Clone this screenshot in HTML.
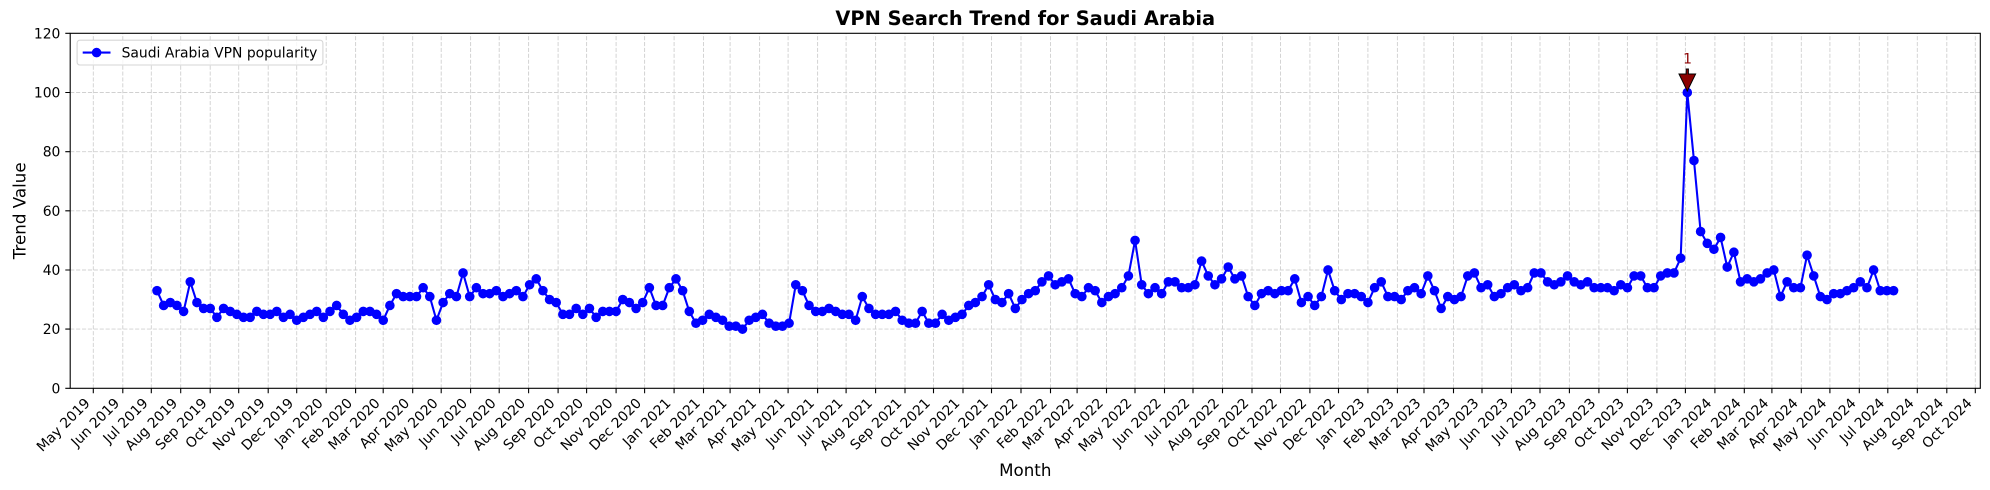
<!DOCTYPE html>
<html><head><meta charset="utf-8"><style>
body{margin:0;background:#fff}
svg{display:block}
text{font-family:"DejaVu Sans","Liberation Sans",sans-serif;fill:#000}
</style></head><body>
<svg width="1990" height="490" viewBox="0 0 1990 490" xmlns="http://www.w3.org/2000/svg">
<defs>
<marker id="m" markerUnits="userSpaceOnUse" markerWidth="1" markerHeight="1" refX="0" refY="0" overflow="visible" orient="0">
<circle r="4.8" transform="scale(0.150297,0.338066)" fill="#0000ff"/>
</marker>
</defs>
<rect width="1990" height="490" fill="#fff"/>

<!-- grid -->
<path fill="none" stroke="#b0b0b0" stroke-opacity="0.6" stroke-width="0.9" stroke-dasharray="4.1,1.8"
d="M93.3 388.3V33.3M122.8 388.3V33.3M151.3 388.3V33.3M180.7 388.3V33.3M210.2 388.3V33.3M238.7 388.3V33.3M268.2 388.3V33.3M296.7 388.3V33.3M326.2 388.3V33.3M355.6 388.3V33.3M383.2 388.3V33.3M412.7 388.3V33.3M441.2 388.3V33.3M470.6 388.3V33.3M499.2 388.3V33.3M528.6 388.3V33.3M558.1 388.3V33.3M586.6 388.3V33.3M616.1 388.3V33.3M644.6 388.3V33.3M674.1 388.3V33.3M703.5 388.3V33.3M730.1 388.3V33.3M759.6 388.3V33.3M788.1 388.3V33.3M817.6 388.3V33.3M846.1 388.3V33.3M875.6 388.3V33.3M905 388.3V33.3M933.5 388.3V33.3M963 388.3V33.3M991.5 388.3V33.3M1021 388.3V33.3M1050.5 388.3V33.3M1077.1 388.3V33.3M1106.5 388.3V33.3M1135 388.3V33.3M1164.5 388.3V33.3M1193 388.3V33.3M1222.5 388.3V33.3M1252 388.3V33.3M1280.5 388.3V33.3M1309.9 388.3V33.3M1338.5 388.3V33.3M1367.9 388.3V33.3M1397.4 388.3V33.3M1424 388.3V33.3M1453.5 388.3V33.3M1482 388.3V33.3M1511.4 388.3V33.3M1540 388.3V33.3M1569.4 388.3V33.3M1598.9 388.3V33.3M1627.4 388.3V33.3M1656.9 388.3V33.3M1685.4 388.3V33.3M1714.9 388.3V33.3M1744.3 388.3V33.3M1771.9 388.3V33.3M1801.3 388.3V33.3M1829.9 388.3V33.3M1859.3 388.3V33.3M1887.8 388.3V33.3M1917.3 388.3V33.3M1946.8 388.3V33.3M1975.3 388.3V33.3
M70.2 329.1H1980.3M70.2 270H1980.3M70.2 210.8H1980.3M70.2 151.7H1980.3M70.2 92.5H1980.3"/>

<!-- data -->
<g transform="translate(157,388.3) scale(6.6535,-2.958)">
<polyline fill="none" stroke="#0000ff" stroke-width="2.08" stroke-linejoin="round" vector-effect="non-scaling-stroke" points="0,33 1,28 2,29 3,28 4,26 5,36 6,29 7,27 8,27 9,24 10,27 11,26 12,25 13,24 14,24 15,26 16,25 17,25 18,26 19,24 20,25 21,23 22,24 23,25 24,26 25,24 26,26 27,28 28,25 29,23 30,24 31,26 32,26 33,25 34,23 35,28 36,32 37,31 38,31 39,31 40,34 41,31 42,23 43,29 44,32 45,31 46,39 47,31 48,34 49,32 50,32 51,33 52,31 53,32 54,33 55,31 56,35 57,37 58,33 59,30 60,29 61,25 62,25 63,27 64,25 65,27 66,24 67,26 68,26 69,26 70,30 71,29 72,27 73,29 74,34 75,28 76,28 77,34 78,37 79,33 80,26 81,22 82,23 83,25 84,24 85,23 86,21 87,21 88,20 89,23 90,24 91,25 92,22 93,21 94,21 95,22 96,35 97,33 98,28 99,26 100,26 101,27 102,26 103,25 104,25 105,23 106,31 107,27 108,25 109,25 110,25 111,26 112,23 113,22 114,22 115,26 116,22 117,22 118,25 119,23 120,24 121,25 122,28 123,29 124,31 125,35 126,30 127,29 128,32 129,27 130,30 131,32 132,33 133,36 134,38 135,35 136,36 137,37 138,32 139,31 140,34 141,33 142,29 143,31 144,32 145,34 146,38 147,50 148,35 149,32 150,34 151,32 152,36 153,36 154,34 155,34 156,35 157,43 158,38 159,35 160,37 161,41 162,37 163,38 164,31 165,28 166,32 167,33 168,32 169,33 170,33 171,37 172,29 173,31 174,28 175,31 176,40 177,33 178,30 179,32 180,32 181,31 182,29 183,34 184,36 185,31 186,31 187,30 188,33 189,34 190,32 191,38 192,33 193,27 194,31 195,30 196,31 197,38 198,39 199,34 200,35 201,31 202,32 203,34 204,35 205,33 206,34 207,39 208,39 209,36 210,35 211,36 212,38 213,36 214,35 215,36 216,34 217,34 218,34 219,33 220,35 221,34 222,38 223,38 224,34 225,34 226,38 227,39 228,39 229,44 230,100 231,77 232,53 233,49 234,47 235,51 236,41 237,46 238,36 239,37 240,36 241,37 242,39 243,40 244,31 245,36 246,34 247,34 248,45 249,38 250,31 251,30 252,32 253,32 254,33 255,34 256,36 257,34 258,40 259,33 260,33 261,33"/>
<polyline fill="none" stroke="none" marker-start="url(#m)" marker-mid="url(#m)" marker-end="url(#m)" points="0,33 1,28 2,29 3,28 4,26 5,36 6,29 7,27 8,27 9,24 10,27 11,26 12,25 13,24 14,24 15,26 16,25 17,25 18,26 19,24 20,25 21,23 22,24 23,25 24,26 25,24 26,26 27,28 28,25 29,23 30,24 31,26 32,26 33,25 34,23 35,28 36,32 37,31 38,31 39,31 40,34 41,31 42,23 43,29 44,32 45,31 46,39 47,31 48,34 49,32 50,32 51,33 52,31 53,32 54,33 55,31 56,35 57,37 58,33 59,30 60,29 61,25 62,25 63,27 64,25 65,27 66,24 67,26 68,26 69,26 70,30 71,29 72,27 73,29 74,34 75,28 76,28 77,34 78,37 79,33 80,26 81,22 82,23 83,25 84,24 85,23 86,21 87,21 88,20 89,23 90,24 91,25 92,22 93,21 94,21 95,22 96,35 97,33 98,28 99,26 100,26 101,27 102,26 103,25 104,25 105,23 106,31 107,27 108,25 109,25 110,25 111,26 112,23 113,22 114,22 115,26 116,22 117,22 118,25 119,23 120,24 121,25 122,28 123,29 124,31 125,35 126,30 127,29 128,32 129,27 130,30 131,32 132,33 133,36 134,38 135,35 136,36 137,37 138,32 139,31 140,34 141,33 142,29 143,31 144,32 145,34 146,38 147,50 148,35 149,32 150,34 151,32 152,36 153,36 154,34 155,34 156,35 157,43 158,38 159,35 160,37 161,41 162,37 163,38 164,31 165,28 166,32 167,33 168,32 169,33 170,33 171,37 172,29 173,31 174,28 175,31 176,40 177,33 178,30 179,32 180,32 181,31 182,29 183,34 184,36 185,31 186,31 187,30 188,33 189,34 190,32 191,38 192,33 193,27 194,31 195,30 196,31 197,38 198,39 199,34 200,35 201,31 202,32 203,34 204,35 205,33 206,34 207,39 208,39 209,36 210,35 211,36 212,38 213,36 214,35 215,36 216,34 217,34 218,34 219,33 220,35 221,34 222,38 223,38 224,34 225,34 226,38 227,39 228,39 229,44 230,100 231,77 232,53 233,49 234,47 235,51 236,41 237,46 238,36 239,37 240,36 241,37 242,39 243,40 244,31 245,36 246,34 247,34 248,45 249,38 250,31 251,30 252,32 253,32 254,33 255,34 256,36 257,34 258,40 259,33 260,33 261,33"/>
</g>

<!-- annotation -->
<polygon points="1686.2,69 1688.4,69 1688.4,74 1695.6,74 1687.3,91 1679,74 1686.2,74" fill="#8b0000" stroke="#000" stroke-width="1" stroke-linejoin="miter"/>
<text x="1687.5" y="63.3" text-anchor="middle" font-size="13.9" style="fill:#8b0000">1</text>

<!-- spines -->
<rect x="70.2" y="33.3" width="1910.1" height="355" fill="none" stroke="#000" stroke-width="1.1"/>

<!-- ticks -->
<path fill="none" stroke="#000" stroke-width="1.1"
d="M93.3 388.3v4.9M122.8 388.3v4.9M151.3 388.3v4.9M180.7 388.3v4.9M210.2 388.3v4.9M238.7 388.3v4.9M268.2 388.3v4.9M296.7 388.3v4.9M326.2 388.3v4.9M355.6 388.3v4.9M383.2 388.3v4.9M412.7 388.3v4.9M441.2 388.3v4.9M470.6 388.3v4.9M499.2 388.3v4.9M528.6 388.3v4.9M558.1 388.3v4.9M586.6 388.3v4.9M616.1 388.3v4.9M644.6 388.3v4.9M674.1 388.3v4.9M703.5 388.3v4.9M730.1 388.3v4.9M759.6 388.3v4.9M788.1 388.3v4.9M817.6 388.3v4.9M846.1 388.3v4.9M875.6 388.3v4.9M905 388.3v4.9M933.5 388.3v4.9M963 388.3v4.9M991.5 388.3v4.9M1021 388.3v4.9M1050.5 388.3v4.9M1077.1 388.3v4.9M1106.5 388.3v4.9M1135 388.3v4.9M1164.5 388.3v4.9M1193 388.3v4.9M1222.5 388.3v4.9M1252 388.3v4.9M1280.5 388.3v4.9M1309.9 388.3v4.9M1338.5 388.3v4.9M1367.9 388.3v4.9M1397.4 388.3v4.9M1424 388.3v4.9M1453.5 388.3v4.9M1482 388.3v4.9M1511.4 388.3v4.9M1540 388.3v4.9M1569.4 388.3v4.9M1598.9 388.3v4.9M1627.4 388.3v4.9M1656.9 388.3v4.9M1685.4 388.3v4.9M1714.9 388.3v4.9M1744.3 388.3v4.9M1771.9 388.3v4.9M1801.3 388.3v4.9M1829.9 388.3v4.9M1859.3 388.3v4.9M1887.8 388.3v4.9M1917.3 388.3v4.9M1946.8 388.3v4.9M1975.3 388.3v4.9
M70.2 388.3h-4.9M70.2 329.1h-4.9M70.2 270h-4.9M70.2 210.8h-4.9M70.2 151.7h-4.9M70.2 92.5h-4.9M70.2 33.3h-4.9"/>

<!-- y tick labels -->
<g font-size="13.9" text-anchor="end">
<text x="60.4" y="393.3">0</text>
<text x="60.4" y="334.1">20</text>
<text x="60.4" y="275">40</text>
<text x="60.4" y="215.8">60</text>
<text x="60.4" y="156.7">80</text>
<text x="60.4" y="97.5">100</text>
<text x="60.4" y="38.3">120</text>
</g>

<!-- x tick labels -->
<g font-size="13.9" text-anchor="end" transform="translate(-2.5,404)">
<text transform="translate(93.3,0) rotate(-45)">May 2019</text>
<text transform="translate(122.8,0) rotate(-45)">Jun 2019</text>
<text transform="translate(151.3,0) rotate(-45)">Jul 2019</text>
<text transform="translate(180.7,0) rotate(-45)">Aug 2019</text>
<text transform="translate(210.2,0) rotate(-45)">Sep 2019</text>
<text transform="translate(238.7,0) rotate(-45)">Oct 2019</text>
<text transform="translate(268.2,0) rotate(-45)">Nov 2019</text>
<text transform="translate(296.7,0) rotate(-45)">Dec 2019</text>
<text transform="translate(326.2,0) rotate(-45)">Jan 2020</text>
<text transform="translate(355.6,0) rotate(-45)">Feb 2020</text>
<text transform="translate(383.2,0) rotate(-45)">Mar 2020</text>
<text transform="translate(412.7,0) rotate(-45)">Apr 2020</text>
<text transform="translate(441.2,0) rotate(-45)">May 2020</text>
<text transform="translate(470.6,0) rotate(-45)">Jun 2020</text>
<text transform="translate(499.2,0) rotate(-45)">Jul 2020</text>
<text transform="translate(528.6,0) rotate(-45)">Aug 2020</text>
<text transform="translate(558.1,0) rotate(-45)">Sep 2020</text>
<text transform="translate(586.6,0) rotate(-45)">Oct 2020</text>
<text transform="translate(616.1,0) rotate(-45)">Nov 2020</text>
<text transform="translate(644.6,0) rotate(-45)">Dec 2020</text>
<text transform="translate(674.1,0) rotate(-45)">Jan 2021</text>
<text transform="translate(703.5,0) rotate(-45)">Feb 2021</text>
<text transform="translate(730.1,0) rotate(-45)">Mar 2021</text>
<text transform="translate(759.6,0) rotate(-45)">Apr 2021</text>
<text transform="translate(788.1,0) rotate(-45)">May 2021</text>
<text transform="translate(817.6,0) rotate(-45)">Jun 2021</text>
<text transform="translate(846.1,0) rotate(-45)">Jul 2021</text>
<text transform="translate(875.6,0) rotate(-45)">Aug 2021</text>
<text transform="translate(905,0) rotate(-45)">Sep 2021</text>
<text transform="translate(933.5,0) rotate(-45)">Oct 2021</text>
<text transform="translate(963,0) rotate(-45)">Nov 2021</text>
<text transform="translate(991.5,0) rotate(-45)">Dec 2021</text>
<text transform="translate(1021,0) rotate(-45)">Jan 2022</text>
<text transform="translate(1050.5,0) rotate(-45)">Feb 2022</text>
<text transform="translate(1077.1,0) rotate(-45)">Mar 2022</text>
<text transform="translate(1106.5,0) rotate(-45)">Apr 2022</text>
<text transform="translate(1135,0) rotate(-45)">May 2022</text>
<text transform="translate(1164.5,0) rotate(-45)">Jun 2022</text>
<text transform="translate(1193,0) rotate(-45)">Jul 2022</text>
<text transform="translate(1222.5,0) rotate(-45)">Aug 2022</text>
<text transform="translate(1252,0) rotate(-45)">Sep 2022</text>
<text transform="translate(1280.5,0) rotate(-45)">Oct 2022</text>
<text transform="translate(1309.9,0) rotate(-45)">Nov 2022</text>
<text transform="translate(1338.5,0) rotate(-45)">Dec 2022</text>
<text transform="translate(1367.9,0) rotate(-45)">Jan 2023</text>
<text transform="translate(1397.4,0) rotate(-45)">Feb 2023</text>
<text transform="translate(1424,0) rotate(-45)">Mar 2023</text>
<text transform="translate(1453.5,0) rotate(-45)">Apr 2023</text>
<text transform="translate(1482,0) rotate(-45)">May 2023</text>
<text transform="translate(1511.4,0) rotate(-45)">Jun 2023</text>
<text transform="translate(1540,0) rotate(-45)">Jul 2023</text>
<text transform="translate(1569.4,0) rotate(-45)">Aug 2023</text>
<text transform="translate(1598.9,0) rotate(-45)">Sep 2023</text>
<text transform="translate(1627.4,0) rotate(-45)">Oct 2023</text>
<text transform="translate(1656.9,0) rotate(-45)">Nov 2023</text>
<text transform="translate(1685.4,0) rotate(-45)">Dec 2023</text>
<text transform="translate(1714.9,0) rotate(-45)">Jan 2024</text>
<text transform="translate(1744.3,0) rotate(-45)">Feb 2024</text>
<text transform="translate(1771.9,0) rotate(-45)">Mar 2024</text>
<text transform="translate(1801.3,0) rotate(-45)">Apr 2024</text>
<text transform="translate(1829.9,0) rotate(-45)">May 2024</text>
<text transform="translate(1859.3,0) rotate(-45)">Jun 2024</text>
<text transform="translate(1887.8,0) rotate(-45)">Jul 2024</text>
<text transform="translate(1917.3,0) rotate(-45)">Aug 2024</text>
<text transform="translate(1946.8,0) rotate(-45)">Sep 2024</text>
<text transform="translate(1975.3,0) rotate(-45)">Oct 2024</text>
</g>

<!-- axis labels & title -->
<text x="1025.25" y="476" text-anchor="middle" font-size="16.7">Month</text>
<text transform="translate(25.5,210.8) rotate(-90)" text-anchor="middle" font-size="16.7">Trend Value</text>
<text x="1025.25" y="25" text-anchor="middle" font-size="19.4" font-weight="bold">VPN Search Trend for Saudi Arabia</text>

<!-- legend -->
<rect x="77.1" y="40.2" width="245.8" height="24.8" rx="2.8" ry="2.8" fill="#fff" fill-opacity="0.8" stroke="#cccccc" stroke-opacity="0.8" stroke-width="1.1"/>
<line x1="82.7" y1="52.6" x2="110.5" y2="52.6" stroke="#0000ff" stroke-width="2.08"/>
<circle cx="96.6" cy="52.6" r="4.8" fill="#0000ff"/>
<text x="121.6" y="57.4" font-size="13.9">Saudi Arabia VPN popularity</text>
</svg>
</body></html>
